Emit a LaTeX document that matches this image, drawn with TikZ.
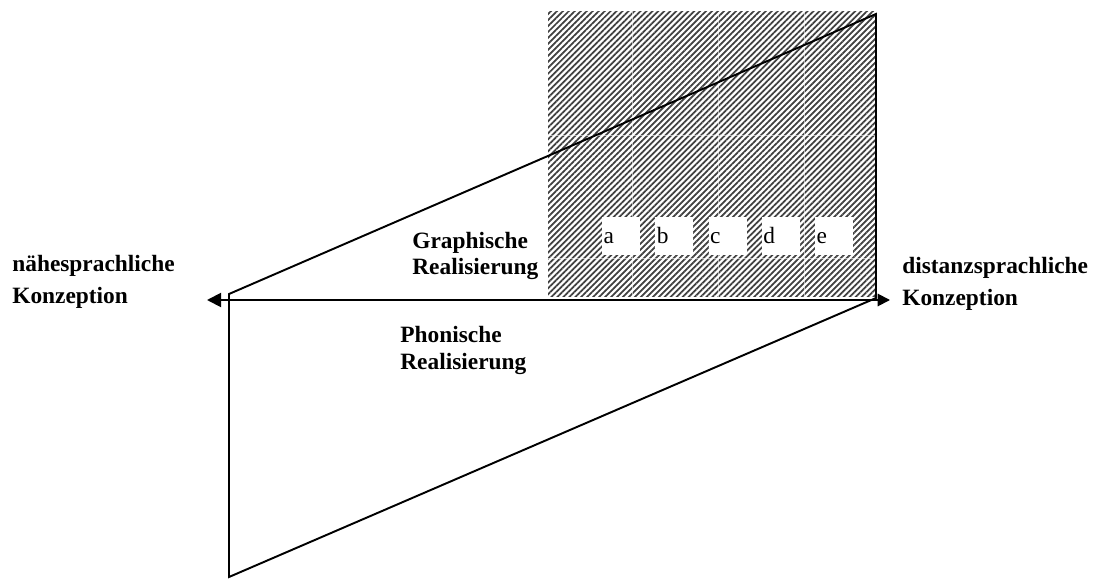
\documentclass[tikz,border=0pt]{standalone}
\usepackage{fontspec}
\setmainfont{Liberation Serif}
\usetikzlibrary{arrows.meta,patterns.meta}
\tikzset{
  thickline/.style={line width=1.1pt},
  gridgap/.style={white,line width=0.35pt,opacity=0.6},
  sidetext/.style={font=\bfseries\fontsize{13.3}{18}\selectfont,align=left,anchor=base west,inner sep=0pt},
  innertext/.style={font=\bfseries\fontsize{13.3}{15}\selectfont,align=left,anchor=base west,inner sep=0pt},
  letterbox/.style={fill=white,text width=0.7cm,inner xsep=0.03cm,minimum height=0.76cm,
    text height=9pt,text depth=0pt,align=left,font=\fontsize{13.3}{15}\selectfont}
}
\begin{document}
\begin{tikzpicture}
\useasboundingbox (0,0) rectangle (21.86,11.6);
% hatched area
\fill [pattern={Lines[angle=45,distance=2.4pt,line width=1pt]},pattern color=black!75]
	(10.96,5.66) rectangle (17.52,11.36);
\foreach \x in {12.64,14.36,16.08}
	\draw [gridgap] (\x,5.66) -- (\x,11.36);
\foreach \y in {6.44,8.9}
	\draw [gridgap] (10.96,\y) -- (17.52,\y);
% letter boxes
\foreach \t [count=\i from 0] in {a,b,c,d,e}
	\node [letterbox] (box\t) at (12.42+1.065*\i,6.88) {\t};
% corners and axis ends
\coordinate (tl) at (4.58,5.72);
\coordinate (tr) at (17.52,11.32);
\coordinate (br) at (17.52,5.64);
\coordinate (bl) at (4.58,0.06);
\coordinate (west) at (4.14,5.6);
\coordinate (east) at (17.8,5.6);
\draw [thickline] (tl) -- (tr) -- (br) -- (bl) -- cycle;
\draw [thickline,{Triangle[length=8pt,width=8pt]}-{Triangle[length=7pt,width=7pt]}] (west) -- (east);
% labels
\node [sidetext] (near) at (0.24,5.54) {nähesprachliche\\Konzeption};
\node [sidetext] (dist) at (18.04,5.5) {distanzsprachliche\\Konzeption};
\node [innertext] (graph) at (8.24,6.1) {Graphische\\Realisierung};
\node [innertext] (phon) at (8.0,4.22) {Phonische\\Realisierung};
\end{tikzpicture}
\end{document}
